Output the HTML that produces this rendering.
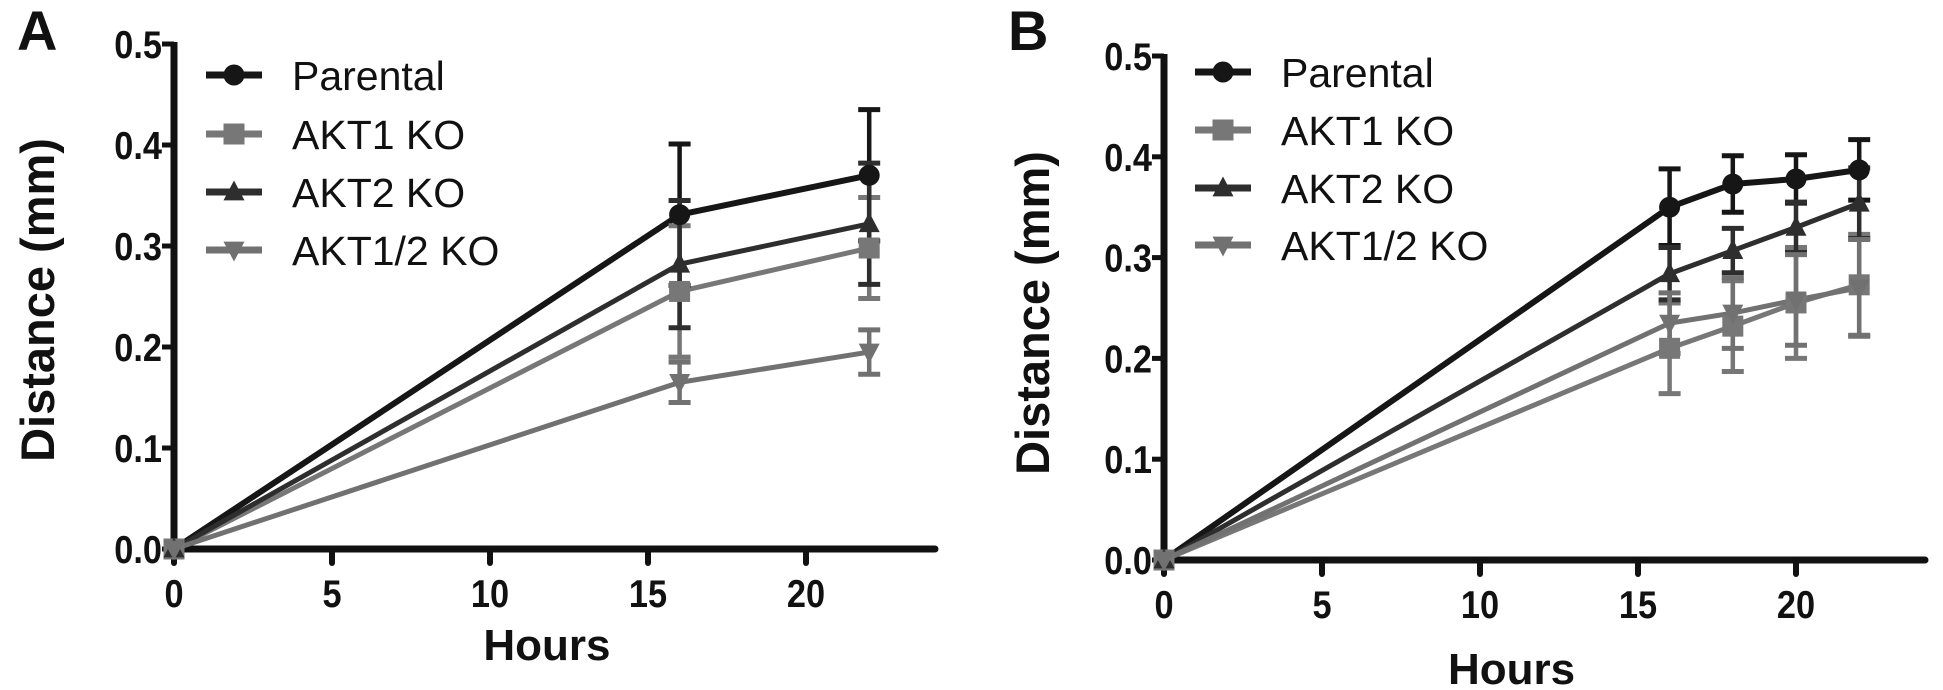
<!DOCTYPE html>
<html><head><meta charset="utf-8"><style>
html,body{margin:0;padding:0;background:#fff;}
svg{display:block;font-family:"Liberation Sans",Arial,sans-serif;}
</style></head><body>
<svg id="fig" width="1943" height="690" viewBox="0 0 1943 690"></svg>
<script>
const hoursA = [0, 16, 22];
const parentalA = [0, 0.331, 0.370];
const parentalErrA = [0, 0.070, 0.065];
const akt1A = [0, 0.255, 0.298];
const akt1ErrA = [0, 0.065, 0.05];
const akt2A = [0, 0.282, 0.322];
const akt2ErrA = [0, 0.063, 0.060];
const akt12A = [0, 0.165, 0.195];
const akt12ErrA = [0, 0.020, 0.022];

const hoursB = [0, 16, 18, 20, 22];
const parentalB = [0, 0.350, 0.373, 0.378, 0.387];
const parentalErrB = [0, 0.038, 0.028, 0.024, 0.030];
const akt1B = [0, 0.210, 0.232, 0.255, 0.273];
const akt1ErrB = [0, 0.045, 0.045, 0.055, 0.050];
const akt2B = [0, 0.284, 0.307, 0.330, 0.354];
const akt2ErrB = [0, 0.026, 0.022, 0.025, 0.035];
const akt12B = [0, 0.235, 0.245, 0.258, 0.270];
const akt12ErrB = [0, 0.030, 0.035, 0.045, 0.048];

const xTicks = [0, 5, 10, 15, 20];
const yTicks = [0.0, 0.1, 0.2, 0.3, 0.4, 0.5];
const seriesNames = ["Parental", "AKT1 KO", "AKT2 KO", "AKT1/2 KO"];

const NS = "http://www.w3.org/2000/svg";
const svg = document.getElementById("fig");
function mk(tag, attrs, parent) {
  const e = document.createElementNS(NS, tag);
  for (const k in attrs) e.setAttribute(k, attrs[k]);
  (parent || svg).appendChild(e);
  return e;
}
const styles = [
  {color:"#161616", w:6, marker:"circle"},
  {color:"#777777", w:5, marker:"square"},
  {color:"#2e2e2e", w:5, marker:"up"},
  {color:"#717171", w:5, marker:"down"}
];
function marker(g, type, cx, cy, color, s) {
  let m;
  if (type === "circle") m = mk("circle", {cx, cy, r:s, fill:color}, g);
  else if (type === "square") m = mk("rect", {x:cx-s, y:cy-s, width:2*s, height:2*s, fill:color}, g);
  else if (type === "up") m = mk("polygon", {points:`${cx},${cy-s*1.1} ${cx-s},${cy+s*0.8} ${cx+s},${cy+s*0.8}`, fill:color}, g);
  else m = mk("polygon", {points:`${cx},${cy+s*1.1} ${cx-s},${cy-s*0.8} ${cx+s},${cy-s*0.8}`, fill:color}, g);
  return m;
}
function condensed(t, x, y, anchor, size, parent) {
  const e = mk("text", {x:0, y:0, "font-size":size, "font-weight":"bold", "text-anchor":anchor, fill:"#111",
    transform:`translate(${x},${y}) scale(0.88,1)`}, parent);
  e.textContent = t;
  return e;
}

function panel(cfg) {
  const g = mk("g", {});
  
  
  const xs = h => cfg.x0 + h * cfg.pxh;
  const ys = v => cfg.y0 - v * cfg.pxv;
  const L = mk("text", {x:cfg.letterX, y:50, "font-size":56, "font-weight":"bold", fill:"#111"}, g);
  L.textContent = cfg.letter;
  
  
  const ax = mk("g", {}, g);
  
  
  mk("line", {x1:cfg.x0, y1:ys(0.5)-2, x2:cfg.x0, y2:cfg.y0+3, stroke:"#111", "stroke-width":7}, ax);
  mk("line", {x1:cfg.x0-3, y1:cfg.y0, x2:cfg.xEnd, y2:cfg.y0, stroke:"#111", "stroke-width":7, "stroke-linecap":"round"}, ax);
  yTicks.forEach(v => {
    mk("line", {x1:cfg.x0-12, y1:ys(v), x2:cfg.x0, y2:ys(v), stroke:"#111", "stroke-width":5}, ax);
    const t = condensed(v.toFixed(1), cfg.x0-12, ys(v)+14, "end", 39, ax);
    
    
  });
  xTicks.forEach(h => {
    mk("line", {x1:xs(h), y1:cfg.y0, x2:xs(h), y2:cfg.y0+14, stroke:"#111", "stroke-width":6, "stroke-linecap":"round"}, ax);
    const t = condensed(String(h), xs(h), cfg.y0+58, "middle", 39, ax);
    
    
  });
  const xt = mk("text", {x:xs(cfg.hoursH), y:cfg.hoursY, "font-size":44, "font-weight":"bold", "text-anchor":"middle", fill:"#111"}, g);
  xt.textContent = "Hours";
  
  
  const yt = mk("text", {x:0, y:0, "font-size":47, "font-weight":"bold", "text-anchor":"middle", fill:"#111",
    transform:`translate(${cfg.ytX},${cfg.ytY}) rotate(-90)`}, g);
  yt.textContent = "Distance (mm)";
  
  
  cfg.series.forEach((s, i) => {
    const st = styles[i];
    const sg = mk("g", {}, g);
    
    
    const pts = cfg.hours.map((h, k) => xs(h) + "," + ys(s.v[k])).join(" ");
    mk("polyline", {points:pts, fill:"none", stroke:st.color, "stroke-width":st.w, "stroke-linejoin":"round"}, sg);
  });
  cfg.series.forEach((s, i) => {
    const st = styles[i];
    const eg = mk("g", {}, g);
    
    
    cfg.hours.forEach((h, k) => {
      if (!s.e[k]) return;
      const x = xs(h), y1 = ys(s.v[k] + s.e[k]), y2 = ys(s.v[k] - s.e[k]);
      mk("line", {x1:x, y1, x2:x, y2, stroke:st.color, "stroke-width":4.5}, eg);
      mk("line", {x1:x-11, y1, x2:x+11, y2:y1, stroke:st.color, "stroke-width":5}, eg);
      mk("line", {x1:x-11, y1:y2, x2:x+11, y2, stroke:st.color, "stroke-width":5}, eg);
    });
  });
  cfg.series.forEach((s, i) => {
    const st = styles[i];
    const mg = mk("g", {}, g);
    
    
    cfg.hours.forEach((h, k) => {
      const m = marker(mg, st.marker, xs(h), ys(s.v[k]), st.color, 10.5);
      
      
    });
  });
  const lg = mk("g", {}, g);
  
  
  seriesNames.forEach((n, i) => {
    const st = styles[i];
    const y = cfg.legY[i];
    const eg = mk("g", {}, lg);
    
    
    mk("line", {x1:cfg.legX, y1:y, x2:cfg.legX+56, y2:y, stroke:st.color, "stroke-width":7}, eg);
    marker(eg, st.marker, cfg.legX+28, y, st.color, 10.5);
    const t = mk("text", {x:cfg.legTextX, y:y+15, "font-size":41, fill:"#111"}, eg);
    t.textContent = n;
  });
}

panel({id:"panel-a", letter:"A", letterX:17, x0:174, y0:549, pxh:31.6, pxv:1010, xEnd:935,
  hours:hoursA, hoursH:11.8, hoursY:660, ytX:54, ytY:300,
  legX:206, legTextX:292, legY:[75,134,192,250],
  series:[{v:parentalA,e:parentalErrA},{v:akt1A,e:akt1ErrA},{v:akt2A,e:akt2ErrA},{v:akt12A,e:akt12ErrA}]});
panel({id:"panel-b", letter:"B", letterX:1008, x0:1164, y0:560, pxh:31.6, pxv:1008, xEnd:1925,
  hours:hoursB, hoursH:11, hoursY:684, ytX:1049, ytY:313,
  legX:1195, legTextX:1281, legY:[72,130,188,245],
  series:[{v:parentalB,e:parentalErrB},{v:akt1B,e:akt1ErrB},{v:akt2B,e:akt2ErrB},{v:akt12B,e:akt12ErrB}]});
</script>
</body></html>
